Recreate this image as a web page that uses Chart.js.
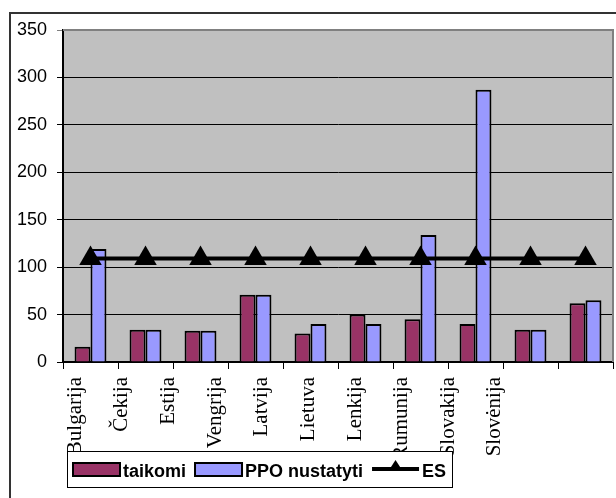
<!DOCTYPE html>
<html>
<head>
<meta charset="utf-8">
<script src="https://cdn.jsdelivr.net/npm/chart.js@4/dist/chart.umd.min.js"></script>
<style>
  html, body { margin: 0; padding: 0; background: #fff; }
  canvas { display: block; }
</style>
</head>
<body>
<canvas id="chart" width="616" height="498"></canvas>
<script>
// šalys ir reikšmės
const categories = ['Bulgarija', 'Čekija', 'Estija', 'Vengrija', 'Latvija', 'Lietuva', 'Lenkija', 'Rumunija', 'Slovakija', 'Slovėnija'];
const taikomi = [16, 34, 33, 71, 30, 50, 45, 40, 34, 62];
const ppoNustatyti = [119, 34, 33, 71, 40, 40, 134, 287, 34, 65];
const es = [109, 109, 109, 109, 109, 109, 109, 109, 109, 109];
const yTicks = [0, 50, 100, 150, 200, 250, 300, 350];

const seriesNames = ['taikomi', 'PPO nustatyti', 'ES'];

// rėmelis, pilkas fonas
const backdrop = {
  id: 'backdrop',
  beforeDraw(chart) {
    const ctx = chart.ctx;
    const a = chart.chartArea;
    ctx.save();
    ctx.fillStyle = '#fff';
    ctx.fillRect(0, 0, chart.width, chart.height);
    ctx.strokeStyle = '#333';
    ctx.lineWidth = 2;
    ctx.beginPath();
    ctx.moveTo(10, chart.height);
    ctx.lineTo(10, 13);
    ctx.lineTo(chart.width, 13);
    ctx.stroke();
    ctx.fillStyle = '#c0c0c0';
    ctx.fillRect(a.left, a.top, a.right - a.left, a.bottom - a.top);
    ctx.restore();
  },
  beforeDatasetsDraw(chart) {
    const ctx = chart.ctx;
    const a = chart.chartArea;
    ctx.save();
    ctx.strokeStyle = '#808080';
    ctx.lineWidth = 2;
    ctx.beginPath();
    ctx.moveTo(a.left, a.top);
    ctx.lineTo(a.right, a.top);
    ctx.lineTo(a.right, a.bottom);
    ctx.stroke();
    ctx.restore();
  }
};

// legenda rėmelyje
const boxLegend = {
  id: 'boxLegend',
  afterDraw(chart) {
    const ctx = chart.ctx;
    const ds = chart.data.datasets;
    ctx.save();
    ctx.fillStyle = '#fff';
    ctx.fillRect(67, 451, 386, 36);
    ctx.strokeStyle = '#000';
    ctx.lineWidth = 1;
    ctx.strokeRect(67.5, 451.5, 385, 36);
    ctx.font = 'bold 18px "Liberation Sans", Arial, sans-serif';
    ctx.textBaseline = 'alphabetic';
    let x = 73;
    ds.forEach(d => {
      if (d.type === 'line') {
        ctx.strokeStyle = '#000';
        ctx.lineWidth = 4;
        ctx.beginPath();
        ctx.moveTo(x, 469);
        ctx.lineTo(x + 47, 469);
        ctx.stroke();
        ctx.fillStyle = '#000';
        ctx.beginPath();
        ctx.moveTo(x + 23.5, 460);
        ctx.lineTo(x + 30, 470);
        ctx.lineTo(x + 17, 470);
        ctx.closePath();
        ctx.fill();
      } else {
        ctx.fillStyle = d.backgroundColor;
        ctx.fillRect(x, 463, 47, 13);
        ctx.strokeStyle = '#000';
        ctx.lineWidth = 2;
        ctx.strokeRect(x, 463, 47, 13);
      }
      x += 50;
      ctx.fillStyle = '#000';
      ctx.fillText(d.label, x, 477);
      x += ctx.measureText(d.label).width + 9;
    });
    ctx.restore();
  }
};

new Chart(document.getElementById('chart'), {
  type: 'bar',
  data: {
    labels: categories,
    datasets: [
      {
        label: seriesNames[0],
        data: taikomi,
        backgroundColor: '#993366',
        borderColor: '#000',
        borderWidth: 2,
        categoryPercentage: 0.58,
        barPercentage: 1,
        order: 1
      },
      {
        label: seriesNames[1],
        data: ppoNustatyti,
        backgroundColor: '#9999ff',
        borderColor: '#000',
        borderWidth: 2,
        categoryPercentage: 0.58,
        barPercentage: 1,
        order: 1
      },
      {
        type: 'line',
        label: seriesNames[2],
        data: es,
        borderColor: '#000',
        borderWidth: 4,
        backgroundColor: '#000',
        pointStyle: 'triangle',
        pointRadius: 13,
        pointBackgroundColor: '#000',
        pointBorderColor: '#000',
        pointBorderWidth: 0,
        tension: 0,
        order: 0
      }
    ]
  },
  options: {
    responsive: false,
    animation: false,
    layout: { autoPadding: false, padding: { left: 0, top: 30, right: 3, bottom: 0 } },
    scales: {
      x: {
        offset: true,
        grid: { drawOnChartArea: false, drawTicks: true, tickLength: 7, color: '#000', offset: true },
        border: { display: true, color: '#000', width: 2 },
        ticks: { display: false },
        afterFit: s => { s.height = 7; }
      },
      // pavadinimų ašis (Excel juos suspaudė į kairę)
      xl: {
        type: 'linear',
        position: 'bottom',
        offset: false,
        bounds: 'data',
        min: -0.257,
        max: 11.529,
        grid: { display: false, drawTicks: false, offset: false },
        border: { display: false },
        afterBuildTicks: s => { s.ticks = categories.map((_, i) => ({ value: i })); },
        ticks: {
          autoSkip: false,
          maxRotation: 90,
          minRotation: 90,
          padding: 8,
          color: '#000',
          font: { family: '"Liberation Serif", "Times New Roman", serif', size: 21 },
          callback: v => categories[v] ?? ''
        },
        afterFit: s => {
          s.height = 129;
          s.paddingLeft = 0;
          s.paddingRight = 0;
        }
      },
      y: {
        min: 0,
        max: 350,
        afterBuildTicks: s => { s.ticks = yTicks.map(v => ({ value: v })); },
        grid: {
          color: c => (c.tick && c.tick.value === 350 ? '#808080' : '#000'),
          lineWidth: 1,
          tickLength: 6
        },
        border: { display: true, color: '#000', width: 2 },
        ticks: {
          padding: 10,
          color: '#000',
          font: { family: '"Liberation Sans", Arial, sans-serif', size: 18 }
        },
        afterFit: s => { s.width = 63; }
      }
    },
    plugins: {
      legend: { display: false },
      tooltip: { enabled: false }
    }
  },
  plugins: [backdrop, boxLegend]
});
</script>
</body>
</html>
